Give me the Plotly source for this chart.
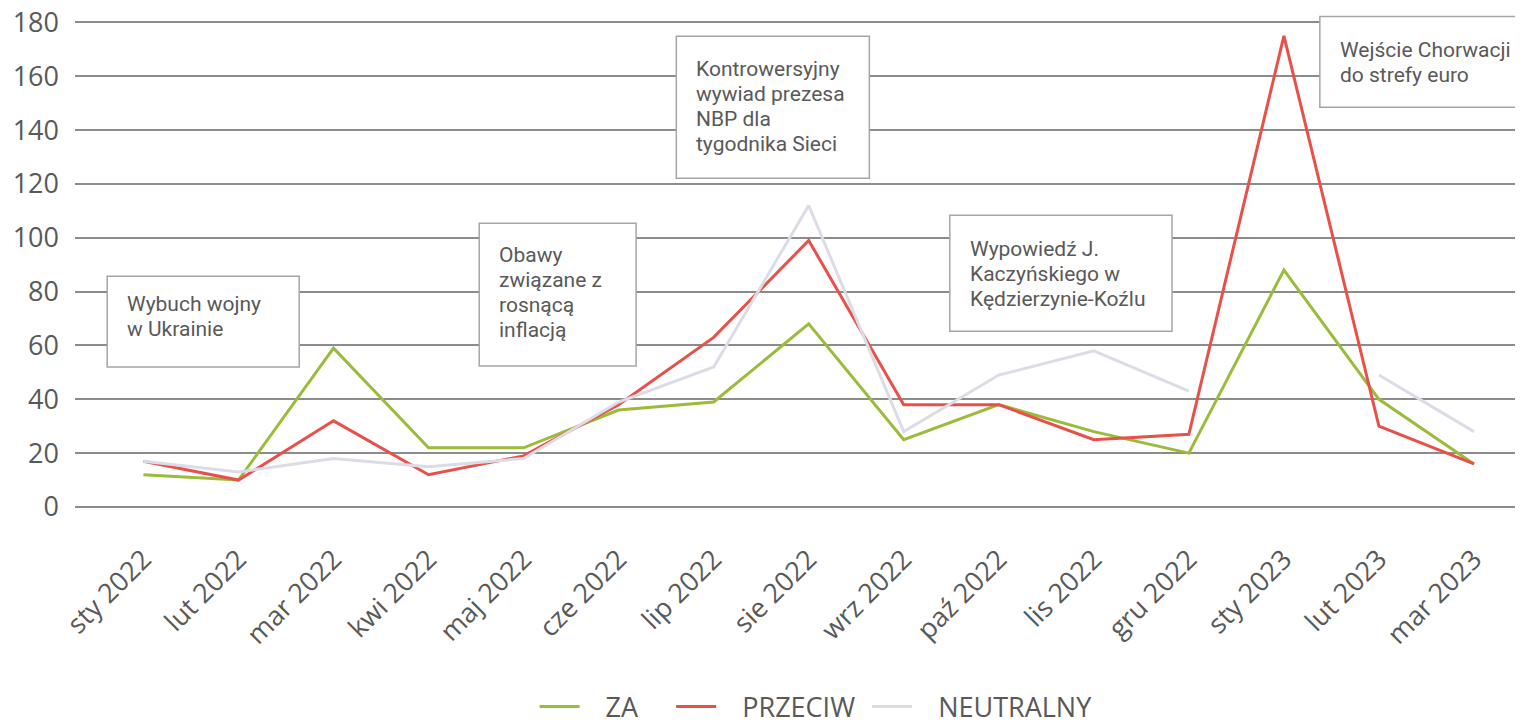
import plotly.graph_objects as go

months = ["sty 2022", "lut 2022", "mar 2022", "kwi 2022", "maj 2022", "cze 2022",
          "lip 2022", "sie 2022", "wrz 2022", "paź 2022", "lis 2022", "gru 2022",
          "sty 2023", "lut 2023", "mar 2023"]
za = [12, 10, 59, 22, 22, 36, 39, 68, 25, 38, 28, 20, 88, 40, 16]
przeciw = [17, 10, 32, 12, 19, 38, 63, 99, 38, 38, 25, 27, 175, 30, 16]
neutralny = [17, 13, 18, 15, 18, 39, 52, 112, 28, 49, 58, 43, None, 49, 28]

events = [
    ["Wybuch wojny", "w Ukrainie"],
    ["Obawy", "związane z", "rosnącą", "inflacją"],
    ["Kontrowersyjny", "wywiad prezesa", "NBP dla", "tygodnika Sieci"],
    ["Wypowiedź J.", "Kaczyńskiego w", "Kędzierzynie-Koźlu"],
    ["Wejście Chorwacji", "do strefy euro"],
]
# box positions on the page, px (x0, y0, x1, y1, first text baseline)
boxes = [(107, 276, 298, 367, 311), (477, 223, 633, 366, 262),
         (673, 36, 865, 178, 76), (945, 215, 1166, 331, 256),
         (1313, 16, 1540, 107, 57)]

OFF = 8  # default body margin of the html page
YTOP = 182  # a little headroom so the 180 gridline is drawn
UNIT = 485 / 180  # px per unit, 0 at page y 507, 180 at page y 22
L, W = 75 - OFF, 1448
H = YTOP * UNIT
BOTTOM = 507 - OFF
T = BOTTOM - H
FIG_H = 760
SP = "\u00a0"


def px(x):
    return (x - OFF - L) / W


def py(y):
    return (BOTTOM - (y - OFF)) / H


fig = go.Figure()
fig.add_trace(go.Scatter(x=months, y=za, name=SP * 3 + "ZA" + SP * 4, mode="lines",
                         line=dict(color="#9BBB3A", width=3)))
fig.add_trace(go.Scatter(x=months, y=przeciw, name=SP * 3 + "PRZECIW" + SP, mode="lines",
                         line=dict(color="#E8504A", width=3)))
fig.add_trace(go.Scatter(x=months, y=neutralny, name=SP * 3 + "NEUTRALNY", mode="lines",
                         line=dict(color="#DCDCE6", width=3), connectgaps=False))

for (x0, y0, x1, y1, base), lines in zip(boxes, events):
    fig.add_shape(type="rect", xref="paper", yref="paper",
                  x0=px(x0), x1=px(x1), y0=py(y0), y1=py(y1),
                  fillcolor="white", line=dict(color="#A6A6A6", width=1.5),
                  layer="above")
    for i, txt in enumerate(lines):
        fig.add_annotation(xref="paper", yref="paper", x=px(x0 + 18),
                           y=py(base + 25 * i - 7),
                           text=txt, showarrow=False, xanchor="left", yanchor="middle",
                           align="left", font=dict(family="Roboto", size=21, color="#595959"))

fig.update_layout(
    width=1523, height=FIG_H,
    margin=dict(l=L, r=0, t=T, b=FIG_H - BOTTOM),
    plot_bgcolor="white", paper_bgcolor="white",
    font=dict(family="Open Sans", color="#595959"),
    showlegend=True,
    legend=dict(orientation="h", x=px(812), xanchor="center", y=py(707),
                yanchor="middle", font=dict(size=27), itemwidth=40),
    xaxis=dict(range=[-0.72, 14.6], tickangle=-45, tickfont=dict(size=27),
               showgrid=False, showline=False, ticks="", automargin=False,
               ticklabelstandoff=30),
    yaxis=dict(range=[0, YTOP], tickvals=list(range(0, 181, 20)), tickfont=dict(size=27),
               gridcolor="#8C8C8C", gridwidth=1.5, zeroline=True,
               zerolinecolor="#8C8C8C", zerolinewidth=1.5, ticks="",
               ticklabelstandoff=15, automargin=False, ticklabeloverflow="allow"),
)

fig.write_html("out.html")
